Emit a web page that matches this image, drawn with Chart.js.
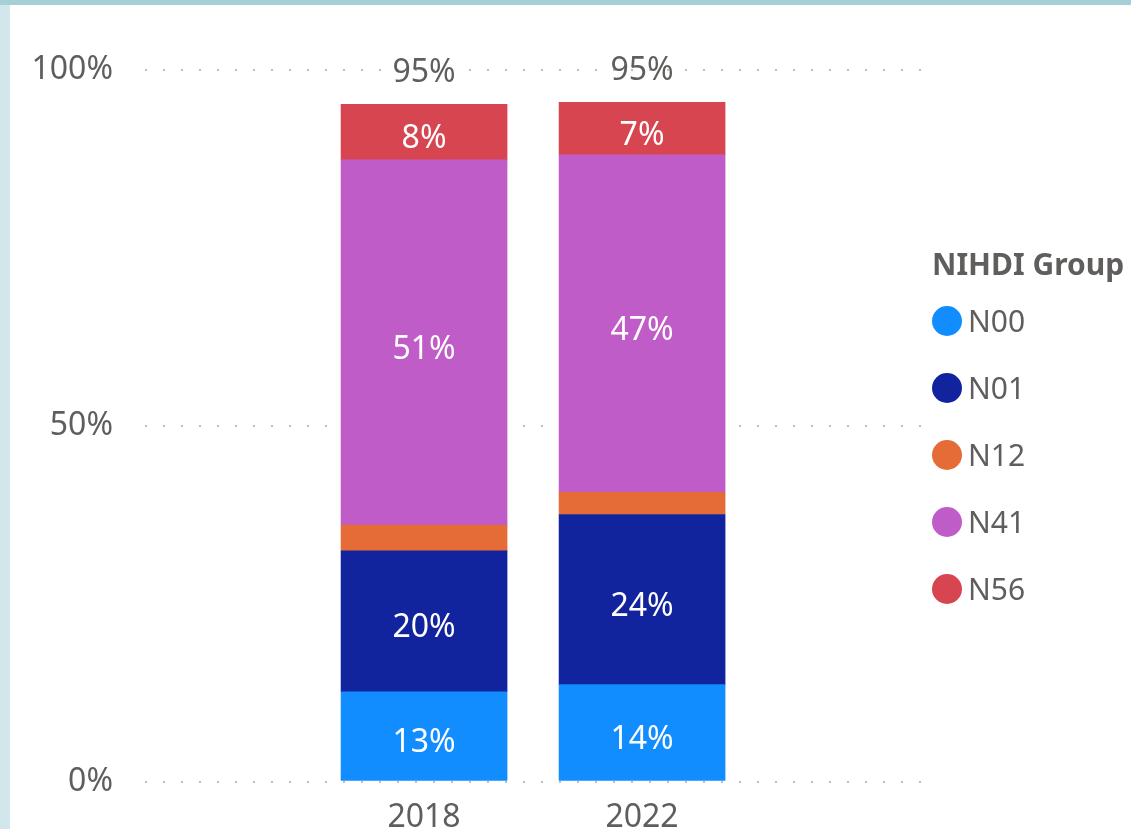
<!DOCTYPE html>
<html lang="en">
<head>
<meta charset="UTF-8">
<title>NIHDI Group 2018 / 2022</title>
<script src="https://cdn.jsdelivr.net/npm/chart.js"></script>
<style>
    html, body {
        margin: 0;
        padding: 0;
        background: #fff;
    }
    body {
        width: 1131px;
        height: 829px;
        overflow: hidden;
        position: relative;
        font-family: "Segoe UI", "Noto Sans", sans-serif;
    }
    .band-top {
        position: absolute;
        left: 0; top: 0;
        width: 1131px; height: 5px;
        background: #a5d0d8;
    }
    .band-left {
        position: absolute;
        left: 0; top: 5px;
        width: 10px; height: 824px;
        background: #d1e7eb;
    }
    .chart-box {
        position: absolute;
        left: 10px; top: 5px;
        width: 1121px; height: 824px;
    }
    .legend {
        position: absolute;
        left: 932px; top: 244px;
        color: #605e5c;
    }
    .legend-title {
        font-weight: bold;
        font-size: 30px;
        line-height: 40px;
        margin-bottom: 3px;
        white-space: nowrap;
    }
    .legend-item {
        display: flex;
        align-items: center;
        height: 67px;
        font-size: 30px;
    }
    .legend-dot {
        width: 30px;
        height: 30px;
        border-radius: 50%;
        margin-right: 6px;
    }
</style>
</head>
<body>
    <div class="band-top"></div>
    <div class="band-left"></div>
    <div class="chart-box">
        <canvas id="chart"></canvas>
    </div>
    <div class="legend" id="legend"></div>

<script>
    // data
    const years = ['2018', '2022'];
    const groups = ['N00', 'N01', 'N12', 'N41', 'N56'];
    const colors = ['#118DFF', '#12239E', '#E66C37', '#BF5CC8', '#D64550'];
    const n00 = [12.6, 13.6];
    const n01 = [19.8, 23.9];
    const n12 = [3.6, 3.1];
    const n41 = [51.3, 47.4];
    const n56 = [7.8, 7.4];
    const yTicks = [0, 50, 100];

    const series = [n00, n01, n12, n41, n56];
    const FONT = '"Segoe UI", "Noto Sans", sans-serif';
    const GREY = '#605E5C';

    Chart.defaults.font.family = FONT;
    Chart.defaults.color = GREY;

    // labels inside the segments and totals above the bars
    const barLabels = {
        id: 'barLabels',
        afterDatasetsDraw(chart) {
            const ctx = chart.ctx;
            ctx.save();
            ctx.font = '32px ' + FONT;
            ctx.textAlign = 'center';
            ctx.textBaseline = 'middle';
            chart.data.datasets.forEach((ds, d) => {
                chart.getDatasetMeta(d).data.forEach((bar, i) => {
                    const v = ds.data[i].y;
                    if (v < 5) return;   // too thin for a label
                    ctx.fillStyle = '#fff';
                    ctx.fillText(Math.round(v) + '%', bar.x, (bar.y + bar.base) / 2 + 7);
                });
            });
            const top = chart.getDatasetMeta(chart.data.datasets.length - 1);
            years.forEach((yr, i) => {
                let total = 0;
                chart.data.datasets.forEach(ds => { total += ds.data[i].y; });
                ctx.fillStyle = GREY;
                ctx.fillText(Math.round(total) + '%', top.data[i].x, top.data[i].y - 31);
            });
            ctx.restore();
        }
    };

    const ctx = document.getElementById('chart').getContext('2d');
    const chart = new Chart(ctx, {
        type: 'bar',
        data: {
            datasets: groups.map((g, k) => ({
                label: g,
                backgroundColor: colors[k],
                borderWidth: 0,
                barThickness: 166,
                data: series[k].map((v, i) => ({ x: i, y: v }))
            }))
        },
        options: {
            responsive: true,
            maintainAspectRatio: false,
            animation: false,
            layout: { padding: { top: 64.5, right: 209, bottom: 0, left: 0 } },
            plugins: {
                legend: { display: false },
                tooltip: { enabled: false }
            },
            scales: {
                x: {
                    type: 'linear',
                    stacked: true,
                    offset: false,
                    min: -1.28,
                    max: 2.284,
                    grid: { display: false },
                    border: { display: false },
                    afterBuildTicks: (scale) => {
                        scale.ticks = years.map((_, i) => ({ value: i }));
                    },
                    afterFit: (scale) => { scale.height = 47.5; },
                    ticks: {
                        padding: 9,
                        maxRotation: 0,
                        autoSkip: false,
                        font: { size: 32 },
                        color: GREY,
                        callback: (v) => years[v]
                    }
                },
                y: {
                    stacked: true,
                    min: 0,
                    max: 100,
                    afterBuildTicks: (scale) => {
                        scale.ticks = yTicks.map(v => ({ value: v }));
                    },
                    afterFit: (scale) => {
                        scale.width = 135;
                        scale.paddingTop = 0;
                        scale.paddingBottom = 0;
                    },
                    grid: {
                        color: '#BEBEBE',
                        lineWidth: 2,
                        drawTicks: false
                    },
                    border: { display: false, dash: [2, 16] },
                    ticks: {
                        padding: 32,
                        font: { size: 32 },
                        color: GREY,
                        callback: (v) => v + '%'
                    }
                }
            }
        },
        plugins: [barLabels]
    });

    // legend
    const legend = document.getElementById('legend');
    legend.innerHTML = '<div class="legend-title">NIHDI Group</div>' +
        groups.map((g, k) =>
            '<div class="legend-item"><span class="legend-dot" style="background:' + colors[k] + '"></span>' + g + '</div>'
        ).join('');
</script>
</body>
</html>
